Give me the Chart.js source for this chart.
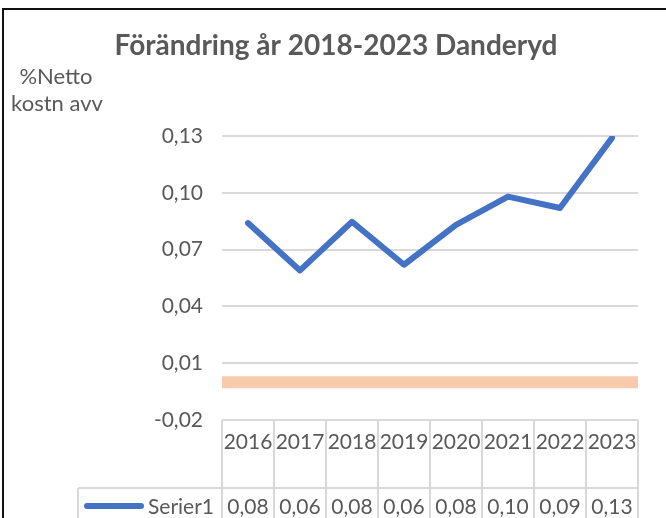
<!DOCTYPE html>
<html>
<head>
<meta charset="utf-8">
<script src="https://cdn.jsdelivr.net/npm/chart.js@4/dist/chart.umd.min.js"></script>
<style>
  html, body { margin: 0; padding: 0; background: #fff; }
</style>
</head>
<body>
<canvas id="c" width="666" height="518"></canvas>
<script>
// data
var years = ["2016", "2017", "2018", "2019", "2020", "2021", "2022", "2023"];
var serier1 = [0.084, 0.059, 0.0847, 0.062, 0.083, 0.098, 0.092, 0.129];
var nollLinje = [0, 0, 0, 0, 0, 0, 0, 0];
var yTicks = [-0.02, 0.01, 0.04, 0.07, 0.10, 0.13];
var chartTitle = "Förändring år 2018-2023 Danderyd";
var axisCaption = ["%Netto", "kostn avv"];
var seriesName = "Serier1";

var textColor = "#595959";
var gridColor = "#d9d9d9";
var blue = "#4472c4";
var fontFam = "Lato, 'Liberation Sans', sans-serif";

function fmt(v) {
  return v.toFixed(2).replace(".", ",");
}

// white bg + the frame of the chart box
var frame = {
  id: "frame",
  beforeDraw: function (chart) {
    var ctx = chart.ctx;
    ctx.save();
    ctx.fillStyle = "#fff";
    ctx.fillRect(0, 0, chart.width, chart.height);
    ctx.fillStyle = "#111";
    ctx.fillRect(2, 8, chart.width, 2);
    ctx.fillRect(2, 8, 2, chart.height);
    ctx.restore();
  }
};

// axis caption top left + the data table under the plot
var dataTable = {
  id: "dataTable",
  afterDraw: function (chart) {
    var ctx = chart.ctx;
    var x = chart.scales.x;
    var area = chart.chartArea;
    var half = (x.getPixelForTick(1) - x.getPixelForTick(0)) / 2;
    var left = x.getPixelForTick(0) - half;
    var right = x.getPixelForTick(years.length - 1) + half;
    var top = area.bottom;
    var rowY = top + 68;
    var keyLeft = 78;
    var bottom = chart.height + 10;

    ctx.save();
    ctx.fillStyle = textColor;
    ctx.font = "22px " + fontFam;
    ctx.textAlign = "center";
    ctx.textBaseline = "middle";
    ctx.fillText(axisCaption[0], 56, 77);
    ctx.fillText(axisCaption[1], 57, 104);

    ctx.strokeStyle = gridColor;
    ctx.lineWidth = 2;
    ctx.beginPath();
    ctx.moveTo(left, top); ctx.lineTo(right, top);
    ctx.moveTo(keyLeft, rowY); ctx.lineTo(right, rowY);
    ctx.moveTo(keyLeft, rowY); ctx.lineTo(keyLeft, bottom);
    for (var i = 0; i <= years.length; i++) {
      var bx = left + i * half * 2;
      ctx.moveTo(bx, top); ctx.lineTo(bx, bottom);
    }
    ctx.stroke();

    // legend key
    ctx.strokeStyle = blue;
    ctx.lineWidth = 6;
    ctx.lineCap = "round";
    ctx.beginPath();
    ctx.moveTo(87, rowY + 18);
    ctx.lineTo(141, rowY + 18);
    ctx.stroke();

    ctx.font = "21px " + fontFam;
    for (var j = 0; j < years.length; j++) {
      var cx = x.getPixelForTick(j);
      ctx.fillText(years[j], cx, top + 22);
      ctx.fillText(fmt(serier1[j]), cx, rowY + 19);
    }
    ctx.textAlign = "right";
    ctx.fillText(seriesName, 214, rowY + 19);
    ctx.restore();
  }
};

new Chart(document.getElementById("c"), {
  type: "line",
  data: {
    labels: years,
    datasets: [
      {
        label: seriesName,
        data: serier1,
        borderColor: blue,
        borderWidth: 6,
        borderJoinStyle: "round",
        borderCapStyle: "round",
        pointRadius: 0,
        tension: 0,
        fill: false
      },
      {
        label: "Serier2",
        data: nollLinje,
        xAxisID: "x2",
        borderColor: "#f8cbad",
        borderWidth: 12,
        borderCapStyle: "butt",
        pointRadius: 0,
        fill: false
      }
    ]
  },
  options: {
    responsive: false,
    animation: false,
    devicePixelRatio: 1,
    layout: { padding: { left: 34, right: 28, top: 0, bottom: 0 } },
    plugins: {
      legend: { display: false },
      tooltip: { enabled: false },
      title: {
        display: true,
        text: chartTitle,
        color: textColor,
        font: { family: fontFam, size: 28, weight: "bold", lineHeight: 1.2 },
        padding: { top: 29, bottom: 73.4 }
      }
    },
    scales: {
      x: {
        type: "category",
        offset: true,
        grid: { display: false },
        border: { display: false },
        ticks: { display: false },
        afterFit: function (s) { s.height = 98; }
      },
      x2: {
        type: "category",
        labels: years,
        offset: false,
        display: false
      },
      y: {
        min: -0.02,
        max: 0.13,
        afterBuildTicks: function (s) {
          s.ticks = yTicks.map(function (v) { return { value: v }; });
        },
        afterFit: function (s) { s.width = 188; },
        grid: { color: gridColor, lineWidth: 2, drawTicks: false },
        border: { display: false },
        ticks: {
          padding: 19,
          color: textColor,
          font: { family: fontFam, size: 21 },
          callback: function (v) { return fmt(v); }
        }
      }
    }
  },
  plugins: [frame, dataTable]
});
</script>
</body>
</html>
